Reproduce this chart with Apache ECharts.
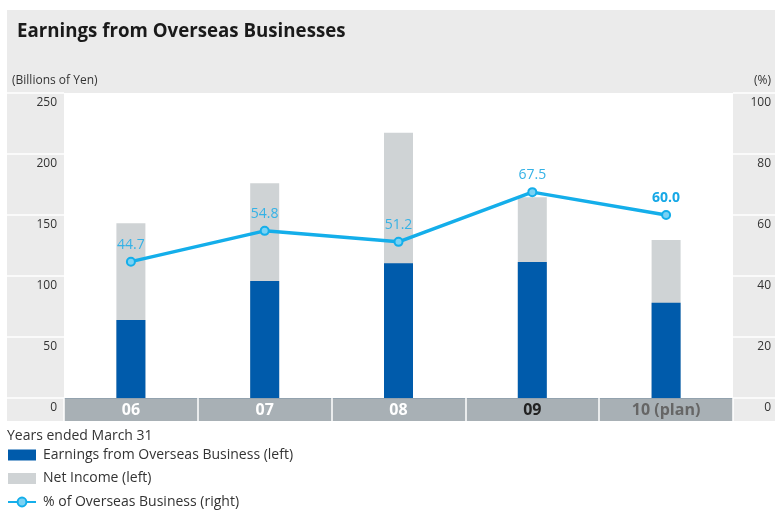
<!DOCTYPE html>
<html>
<head>
<meta charset="utf-8">
<script src="https://cdn.jsdelivr.net/npm/echarts@6/dist/echarts.min.js"></script>
<style>
  html, body { margin: 0; padding: 0; background: #ffffff; }
  #chart { width: 775px; height: 512px; }
</style>
</head>
<body>
<div id="chart"></div>
<script>
// Fiscal years (ended March 31)
const years = ['06', '07', '08', '09', '10 (plan)'];
// Billions of yen
const netIncome = [143.2, 176.0, 217.5, 164.5, 129.5];
const overseasEarnings = [64.0, 96.0, 110.5, 111.5, 78.0];
// Share of overseas business, %
const overseasShare = [44.7, 54.8, 51.2, 67.5, 60.0];
// Axis ticks
const leftTicks = { min: 0, max: 250, interval: 50 };
const rightTicks = { min: 0, max: 100, interval: 20 };

const FONT = '"Open Sans", "Noto Sans", sans-serif';
const CYAN = '#14aeea';
const BLUE = '#005bab';
const GREY_BAR = '#cfd3d5';
const PANEL = '#ebebeb';
const BAND = '#a8b0b5';

const yearColors = ['#ffffff', '#ffffff', '#ffffff', '#222222', '#666666'];

const chart = echarts.init(document.getElementById('chart'), null, { renderer: 'canvas' });

chart.setOption({
  animation: false,
  backgroundColor: '#ffffff',
  textStyle: { fontFamily: FONT },
  title: [
    {
      text: 'Earnings from Overseas Businesses',
      left: 17, top: 22, padding: 0,
      textStyle: { fontFamily: FONT, fontSize: 18.7, fontWeight: 'bold', color: '#1a1a1a' }
    },
    {
      text: '(Billions of Yen)',
      left: 12, top: 75, padding: 0,
      textStyle: { fontFamily: FONT, fontSize: 12, fontWeight: 'normal', color: '#333333' }
    },
    {
      text: '(%)',
      right: 4, top: 75, padding: 0,
      textStyle: { fontFamily: FONT, fontSize: 12, fontWeight: 'normal', color: '#333333' }
    },
    {
      text: 'Years ended March 31',
      left: 7, top: 429, padding: 0,
      textStyle: { fontFamily: FONT, fontSize: 14, fontWeight: 'normal', color: '#333333' }
    }
  ],
  graphic: [
    // header strip
    { type: 'rect', z: -10, shape: { x: 7, y: 10, width: 768, height: 83 }, style: { fill: PANEL } },
    // left tick column
    { type: 'rect', z: -10, shape: { x: 7, y: 93, width: 57, height: 328 }, style: { fill: PANEL } },
    // right tick column
    { type: 'rect', z: -10, shape: { x: 733, y: 93, width: 42, height: 328 }, style: { fill: PANEL } },
    // category band under the plot
    { type: 'rect', z: -10, shape: { x: 64, y: 398, width: 669, height: 23 }, style: { fill: BAND } }
  ],
  legend: {
    orient: 'vertical',
    left: 7, top: 448,
    padding: 0,
    height: 70,
    itemWidth: 28, itemHeight: 11,
    itemGap: 9.5,
    selectedMode: false,
    data: [
      { name: 'Earnings from Overseas Business (left)', icon: 'rect' },
      { name: 'Net Income (left)', icon: 'rect' },
      { name: '% of Overseas Business (right)' }
    ],
    textStyle: { fontFamily: FONT, fontSize: 14, color: '#333333', lineHeight: 14, padding: [0, 0, 0, 2] }
  },
  grid: { left: 64, right: 42, top: 93, bottom: 114, containLabel: false },
  xAxis: {
    type: 'category',
    data: years,
    boundaryGap: true,
    z: 5,
    axisLine: { show: true, lineStyle: { color: '#93a2ae', width: 1 } },
    axisTick: { show: true, length: 23, lineStyle: { color: '#ffffff', width: 1.5 } },
    axisLabel: {
      margin: 4,
      fontFamily: FONT,
      fontSize: 16,
      fontWeight: 'bold',
      color: (value, index) => yearColors[index]
    }
  },
  yAxis: [
    {
      type: 'value',
      min: leftTicks.min, max: leftTicks.max, interval: leftTicks.interval,
      z: 5,
      axisLine: { show: false },
      axisTick: { show: true, length: 57, lineStyle: { color: '#ffffff', width: 1.5 } },
      splitLine: { show: false },
      axisLabel: {
        margin: 7,
        verticalAlign: 'top',
        padding: [4, 0, 0, 0],
        fontFamily: FONT, fontSize: 12, color: '#333333'
      }
    },
    {
      type: 'value',
      min: rightTicks.min, max: rightTicks.max, interval: rightTicks.interval,
      z: 5,
      axisLine: { show: false },
      axisTick: { show: true, length: 42, lineStyle: { color: '#ffffff', width: 1.5 } },
      splitLine: { show: false },
      axisLabel: {
        margin: 38,
        align: 'right',
        verticalAlign: 'top',
        padding: [4, 0, 0, 0],
        fontFamily: FONT, fontSize: 12, color: '#333333'
      }
    }
  ],
  series: [
    {
      name: 'Net Income (left)',
      type: 'bar',
      yAxisIndex: 0,
      barWidth: 29,
      barGap: '-100%',
      itemStyle: { color: GREY_BAR },
      data: netIncome
    },
    {
      name: 'Earnings from Overseas Business (left)',
      type: 'bar',
      yAxisIndex: 0,
      barWidth: 29,
      barGap: '-100%',
      itemStyle: { color: BLUE },
      data: overseasEarnings
    },
    {
      name: '% of Overseas Business (right)',
      type: 'line',
      yAxisIndex: 1,
      z: 10,
      symbol: 'circle',
      symbolSize: 8,
      lineStyle: { color: CYAN, width: 3.5 },
      itemStyle: { color: '#7ad2f4', borderColor: CYAN, borderWidth: 2 },
      label: {
        show: true,
        position: 'top',
        distance: 5,
        fontFamily: FONT,
        fontSize: 14,
        color: '#35b2e6',
        formatter: p => p.value.toFixed(1)
      },
      data: overseasShare.map((v, i) => i === overseasShare.length - 1
        ? { value: v, label: { fontWeight: 'bold', color: '#16a8e6' } }
        : v)
    }
  ]
});
</script>
</body>
</html>
